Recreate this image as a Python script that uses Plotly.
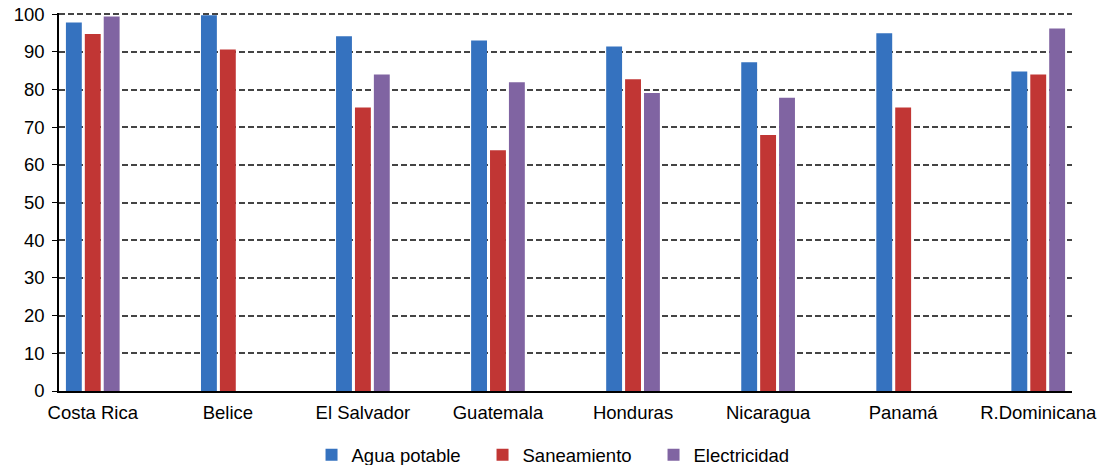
import plotly.graph_objects as go

paises = ["Costa Rica", "Belice", "El Salvador", "Guatemala", "Honduras",
          "Nicaragua", "Panamá", "R.Dominicana"]
agua_potable = [97.8, 99.7, 94.1, 93.0, 91.4, 87.2, 94.9, 84.8]
saneamiento = [94.7, 90.6, 75.2, 63.9, 82.7, 67.9, 75.2, 84.0]
electricidad = [99.4, None, 84.0, 81.9, 79.1, 77.8, None, 96.2]
y_ticks = list(range(0, 101, 10))

FONT = dict(family="Liberation Sans, Arial, sans-serif", size=18.5, color="black")

fig = go.Figure()
fig.add_bar(x=paises, y=agua_potable, name="Agua potable",
            marker=dict(color="#3572bf", line=dict(width=0)))
fig.add_bar(x=paises, y=saneamiento, name="Saneamiento",
            marker=dict(color="#c13634", line=dict(width=0)))
fig.add_bar(x=paises, y=electricidad, name="Electricidad",
            marker=dict(color="#8064a2", line=dict(width=0)))

fig.update_layout(
    width=1102, height=465,
    margin=dict(l=59, r=30, t=13, b=74, autoexpand=False),
    paper_bgcolor="white", plot_bgcolor="white",
    font=FONT,
    barmode="group", bargap=0.58, bargroupgap=0.16,
    showlegend=True,
    legend=dict(orientation="h", x=0.5025, xanchor="center", y=-0.17,
                yanchor="middle", font=FONT, itemwidth=30,
                entrywidth=126, entrywidthmode="pixels",
                traceorder="normal"),
)
fig.update_xaxes(
    type="category", range=[-0.25, 7.25], automargin=False,
    showline=True, linecolor="black", linewidth=1.5,
    ticks="", showgrid=False, ticklabelstandoff=4,
)
fig.update_yaxes(
    range=[0, 100.3], tickvals=y_ticks, automargin=False,
    showline=True, linecolor="black", linewidth=1.5,
    ticks="outside", ticklen=5, tickcolor="black",
    showgrid=True, gridcolor="#444444", gridwidth=1.5, griddash="6px,3px",
    zeroline=False, ticklabelstandoff=4, ticklabeloverflow="allow",
)

# drop the default 8px body margin so the figure sits at the page corner
fig.write_html("out.html", config={"displayModeBar": False},
               post_script="document.body.style.margin='0';")
